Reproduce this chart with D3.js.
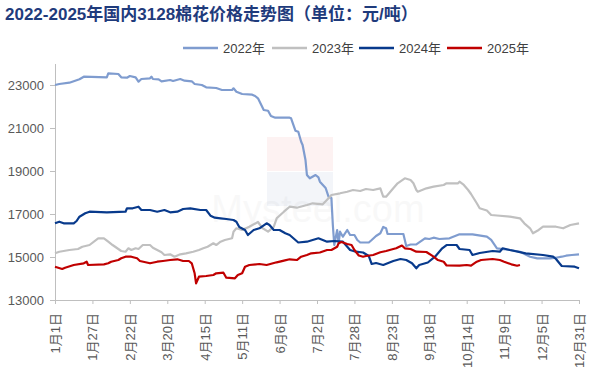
<!DOCTYPE html>
<html>
<head>
<meta charset="utf-8">
<script src="https://cdn.jsdelivr.net/npm/d3@7"></script>
<style>
  body { margin: 0; background: #fff; }
  svg { display: block; font-family: "Liberation Sans", "Noto Sans CJK SC", sans-serif; }
</style>
</head>
<body>
<script>
// day of year (0 = 1月1日) and price
var days2022 = [0,3,10,14,17,20,36,37,44,46,50,52,56,58,60,66,67,68,72,74,80,82,87,90,95,97,102,105,112,116,123,124,126,130,137,139,141,145,148,150,153,163,164,167,169,171,172,174,175,177,181,183,184,188,190,192,193,194,196,197,198,200,203,205,208,210,212,218,220,223,226,228,230,231,242,244,247,251,257,260,263,267,274,281,290,300,303,307,316,323,330,335,344,348,352,355,359,364];
var price2022 = [23000,23046,23107,23200,23265,23386,23358,23544,23511,23358,23339,23418,23358,23153,23279,23311,23386,23279,23265,23172,23232,23186,23279,23200,23172,23046,23000,22893,22860,22767,22767,22846,22688,22581,22549,22488,22381,21837,21804,21558,21479,21479,21451,20874,20828,20362,20209,19511,18814,18660,18814,18707,18502,18209,17805,17744,16488,15558,16256,15637,16177,15944,16256,16023,16023,15791,15674,15674,15791,15977,16102,16395,16335,16070,16070,15512,15581,15591,15870,15837,15898,15837,15870,16056,16056,15944,15791,15405,15326,15246,15014,14939,14939,14967,15014,15060,15093,15126];

var days2023 = [0,3,10,16,19,24,30,34,37,40,44,46,49,51,53,56,58,61,66,68,71,74,76,80,83,87,91,96,100,103,106,110,112,115,118,123,124,126,130,135,141,144,148,152,154,159,163,168,175,179,186,191,192,198,203,207,212,216,221,226,228,230,235,238,243,247,249,251,252,258,263,270,272,280,281,284,287,289,293,295,300,303,307,316,323,326,330,332,336,339,348,353,358,364];
var price2023 = [15172,15246,15326,15372,15479,15558,15870,15870,15712,15558,15372,15279,15246,15405,15326,15405,15372,15558,15558,15432,15326,15219,15093,15126,15014,15126,15172,15246,15326,15405,15479,15637,15558,15712,15791,15870,16177,16335,16256,16409,16628,16349,16177,16409,16800,17107,17339,17293,17418,17498,17451,17805,17884,17963,18037,18116,18070,18163,18116,18195,17805,17805,18195,18428,18660,18581,18428,18116,18037,18195,18270,18349,18428,18428,18502,18349,18116,17930,17498,17265,17163,16953,16930,16874,16800,16567,16335,16102,16256,16409,16409,16335,16488,16567];

var days2024 = [0,3,6,13,15,17,21,24,36,49,50,54,58,60,66,71,76,80,85,89,94,101,105,108,111,115,119,124,126,128,132,134,138,142,147,149,152,156,160,163,167,169,175,183,189,194,200,205,209,214,218,220,223,228,235,240,244,248,251,253,259,264,269,272,279,281,288,290,295,304,309,311,316,327,339,346,348,352,361,364];
var price2024 = [16567,16642,16567,16567,16674,16874,17032,17107,17079,17107,17265,17265,17339,17186,17186,17107,17186,17079,17107,17232,17265,17186,17186,16921,16828,16800,16767,16721,16642,16395,16256,16023,16256,16335,16567,16488,16256,16256,16102,16023,15791,15674,15712,15870,15712,15744,15712,15326,15246,15209,15046,14674,14721,14628,14814,14907,14860,14707,14474,14628,14744,15014,15405,15558,15558,15372,15326,15093,15186,15279,15246,15405,15326,15172,15093,15014,14907,14581,14549,14474];

var days2025 = [0,5,7,13,20,22,23,34,37,39,44,46,49,53,57,59,66,71,75,80,85,89,93,95,97,98,100,105,110,112,117,119,125,127,130,132,135,142,147,154,159,163,168,171,175,178,184,189,192,196,197,199,203,206,208,211,214,216,221,226,230,235,237,241,243,247,251,258,263,266,270,272,281,286,289,293,296,304,309,312,317,321,323];
var price2025 = [14549,14442,14502,14628,14707,14781,14628,14660,14707,14781,14860,14939,15014,15014,14939,14814,14707,14781,14814,14860,14893,14814,14814,14707,14242,13777,14084,14116,14163,14242,14270,14037,14009,14163,14242,14549,14628,14674,14628,14753,14828,14893,14860,15014,15093,15172,15209,15326,15326,15479,15637,15698,15605,15558,15326,15070,15014,15046,15093,15219,15279,15372,15405,15535,15405,15372,15246,15233,15014,14860,14781,14605,14595,14628,14595,14781,14860,14907,14860,14781,14660,14595,14628];

var seriesNames = ["2022年", "2023年", "2024年", "2025年"];
var seriesColors = ["#7f9ccf", "#c0c0c0", "#083a8c", "#c00000"];
var yTicks = [13000, 15000, 17000, 19000, 21000, 23000];
var xTickDays = [0,26,52,78,104,130,156,182,208,234,260,286,312,338,364];
var xTickLabels = ["1月1日","1月27日","2月22日","3月20日","4月15日","5月11日","6月6日","7月2日","7月28日","8月23日","9月18日","10月14日","11月9日","12月5日","12月31日"];

var allDays = [days2022, days2023, days2024, days2025];
var allPrices = [price2022, price2023, price2024, price2025];

var width = 594, height = 390;
var plotLeft = 55, plotRight = 579, plotTop = 63.5, plotBottom = 300;

var svg = d3.select("body").append("svg")
  .attr("width", width)
  .attr("height", height);

svg.append("rect").attr("width", width).attr("height", height).attr("fill", "#fff");

var x = d3.scaleLinear().domain([0, 364]).range([plotLeft, plotRight]);
var y = d3.scaleLinear().domain([13000, 24000]).range([plotBottom, plotTop]);

// title
svg.append("text")
  .attr("x", 5)
  .attr("y", 20)
  .attr("font-size", 17)
  .attr("font-weight", "bold")
  .attr("fill", "#1f3b7c")
  .text("2022-2025年国内3128棉花价格走势图（单位：元/吨）");

// faint watermark
var wm = svg.append("g").attr("opacity", 0.05);
wm.append("rect").attr("x", 267).attr("y", 137).attr("width", 66).attr("height", 34).attr("fill", "#d22");
wm.append("rect").attr("x", 267).attr("y", 172).attr("width", 66).attr("height", 34).attr("fill", "#2a4aa0");
svg.append("text").attr("x", 318).attr("y", 222).attr("text-anchor", "middle")
  .attr("font-size", 38).attr("fill", "#000").attr("opacity", 0.025).text("Mysteel.com");

// axes
var yAxis = svg.append("g")
  .attr("transform", "translate(" + plotLeft + ",0)")
  .call(d3.axisLeft(y).tickValues(yTicks).tickSize(5).tickSizeOuter(0).tickPadding(6)
    .tickFormat(d3.format("d")));
yAxis.attr("font-family", null);
yAxis.selectAll("text").attr("font-size", 13).attr("fill", "#595959");

var xAxis = svg.append("g")
  .attr("transform", "translate(0," + plotBottom + ")")
  .call(d3.axisBottom(x).tickValues(xTickDays).tickSize(4).tickSizeOuter(0)
    .tickFormat(function (d, i) { return xTickLabels[i]; }));
xAxis.attr("font-family", null);
xAxis.selectAll("text")
  .attr("font-size", 13)
  .attr("fill", "#595959")
  .attr("transform", "rotate(-90)")
  .attr("x", -13)
  .attr("y", 0)
  .attr("dy", "0.35em")
  .style("text-anchor", "end");

svg.selectAll(".domain, .tick line").attr("stroke", "#bfbfbf");

// lines
var line = d3.line()
  .x(function (d) { return x(d[0]); })
  .y(function (d) { return y(d[1]); });

allDays.forEach(function (ds, k) {
  var pts = ds.map(function (d, i) { return [d, allPrices[k][i]]; });
  svg.append("path")
    .datum(pts)
    .attr("fill", "none")
    .attr("stroke", seriesColors[k])
    .attr("stroke-width", 2.2)
    .attr("stroke-linejoin", "round")
    .attr("d", line);
});

// legend
var legendX = [183, 272, 359, 447];
var legend = svg.selectAll(".legend")
  .data(seriesNames)
  .enter().append("g")
  .attr("transform", function (d, i) { return "translate(" + legendX[i] + ",48)"; });

legend.append("line")
  .attr("x1", 0).attr("x2", 35)
  .attr("stroke", function (d, i) { return seriesColors[i]; })
  .attr("stroke-width", 2.5);

legend.append("text")
  .attr("x", 40)
  .attr("y", 5)
  .attr("font-size", 13)
  .attr("fill", "#404040")
  .text(function (d) { return d; });
</script>
</body>
</html>
